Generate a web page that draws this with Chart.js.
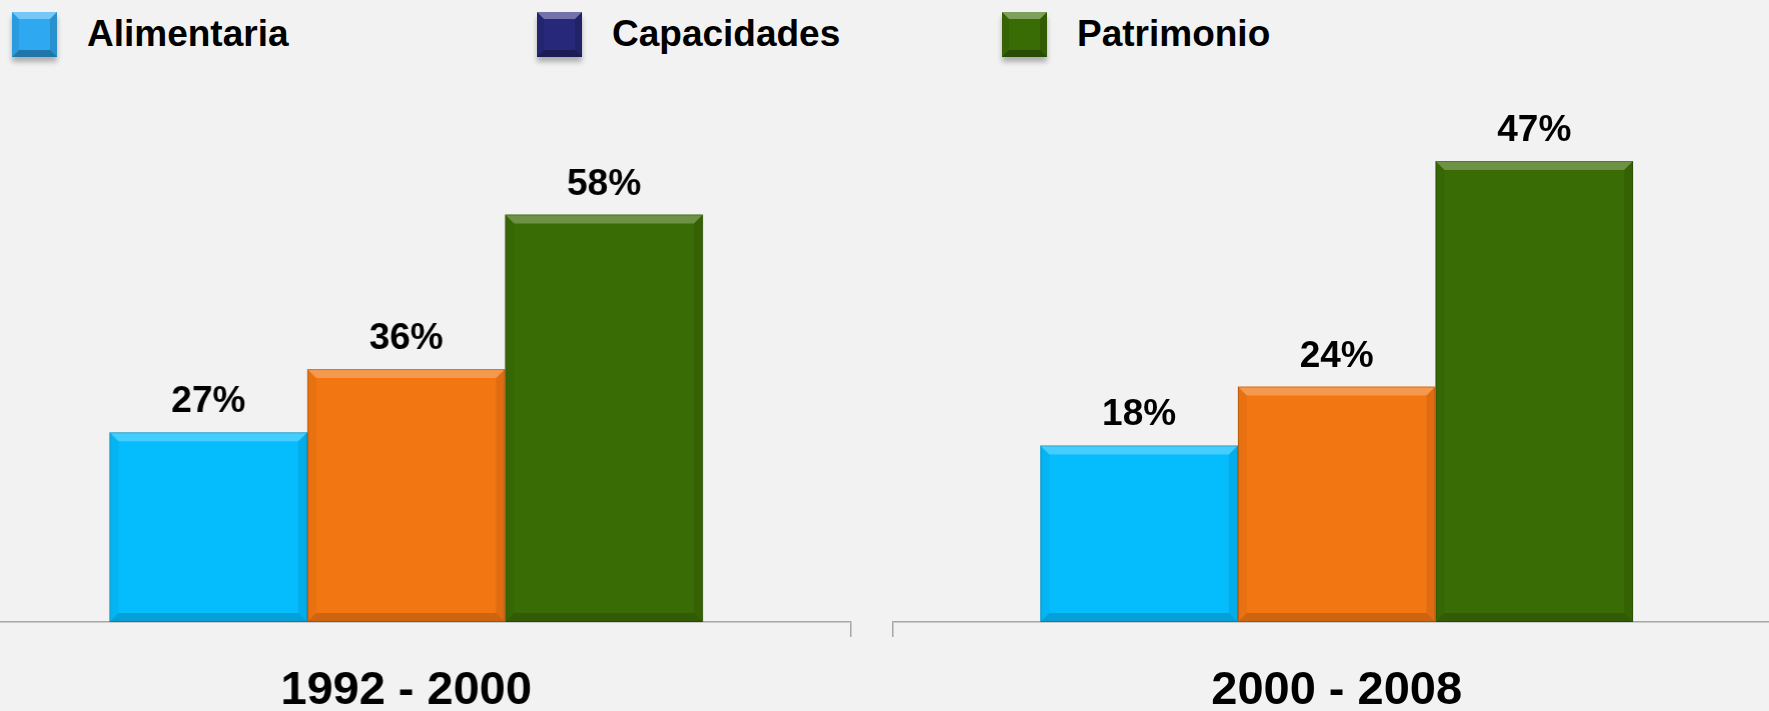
<!DOCTYPE html>
<html lang="es">
<head>
<meta charset="utf-8">
<title>Pobreza por periodo</title>
<script src="https://cdn.jsdelivr.net/npm/chart.js@4.4.1/dist/chart.umd.min.js"></script>
<style>
  html, body {
    margin: 0;
    padding: 0;
    background: #f2f2f2;
  }
  body {
    width: 1769px;
    height: 711px;
    position: relative;
    overflow: hidden;
    font-family: "Liberation Sans", Arial, sans-serif;
  }
  .chart-box {
    position: absolute;
    top: 0;
    width: 890.4px;
    height: 746px;
  }
  #box1 { left: -37.8px; }
  #box2 { left: 889.6px; }
  .legend-item {
    position: absolute;
    top: 12px;
    height: 45px;
  }
  .legend-item .swatch {
    position: absolute;
    left: 0;
    top: 0;
    width: 31px;
    height: 31px;
    border-style: solid;
    border-width: 7px;
    box-shadow: 0 5px 5px rgba(0, 0, 0, 0.28);
  }
  .legend-item .label {
    position: absolute;
    top: -1px;
    white-space: nowrap;
    font-weight: bold;
    font-size: 37px;
    line-height: 45px;
    color: #000;
  }
</style>
</head>
<body>
<div id="legend"></div>
<div class="chart-box" id="box1"><canvas id="chart1"></canvas></div>
<div class="chart-box" id="box2"><canvas id="chart2"></canvas></div>

<script>
const categories = ['Alimentaria', 'Capacidades', 'Patrimonio'];
const periods = ['1992 - 2000', '2000 - 2008'];
const values1992 = [27, 36, 58];
const values2000 = [18, 24, 47];
const barColors = ['#05bcfd', '#f27612', '#3a6c05'];
const legendColors = ['#2ea9f1', '#27287a', '#3a6c05'];

// legend boxes along the top, with a bevelled swatch
const legendLeft = [12, 537, 1002];
const legendTextGap = 75;
const legend = document.getElementById('legend');
categories.forEach((name, i) => {
  const item = document.createElement('div');
  item.className = 'legend-item';
  item.style.left = legendLeft[i] + 'px';
  const c = legendColors[i];
  item.innerHTML = `
    <div class="swatch" style="background:${c};
      border-top-color:${shade(c, 0.35)};
      border-bottom-color:${shade(c, -0.3)};
      border-left-color:${shade(c, -0.08)};
      border-right-color:${shade(c, -0.15)};"></div>
    <div class="label" style="left:${legendTextGap}px">${name}</div>
  `;
  legend.appendChild(item);
});

function shade(hex, amt) {
  const n = parseInt(hex.slice(1), 16);
  let r = n >> 16, g = (n >> 8) & 255, b = n & 255;
  const f = v => amt >= 0 ? Math.round(v + (255 - v) * amt) : Math.round(v * (1 + amt));
  return `rgb(${f(r)},${f(g)},${f(b)})`;
}

// bevel edges on every bar
const bevelPlugin = {
  id: 'bevel',
  afterDatasetsDraw(chart) {
    const ctx = chart.ctx;
    const s = 9;
    chart.data.datasets.forEach((ds, i) => {
      chart.getDatasetMeta(i).data.forEach(bar => {
        const { x, y, base, width } = bar.getProps(['x', 'y', 'base', 'width'], true);
        const l = x - width / 2, r = x + width / 2, t = y, b = base;
        const poly = (pts, fill) => {
          ctx.fillStyle = fill;
          ctx.beginPath();
          ctx.moveTo(pts[0][0], pts[0][1]);
          pts.slice(1).forEach(p => ctx.lineTo(p[0], p[1]));
          ctx.closePath();
          ctx.fill();
        };
        ctx.save();
        poly([[l, t], [r, t], [r - s, t + s], [l + s, t + s]], 'rgba(255,255,255,0.26)');
        poly([[l, b], [r, b], [r - s, b - s], [l + s, b - s]], 'rgba(0,0,0,0.15)');
        poly([[l, t], [l + s, t + s], [l + s, b - s], [l, b]], 'rgba(0,0,0,0.04)');
        poly([[r, t], [r - s, t + s], [r - s, b - s], [r, b]], 'rgba(0,0,0,0.08)');
        ctx.strokeStyle = 'rgba(0,0,0,0.2)';
        ctx.lineWidth = 1;
        ctx.strokeRect(l + 0.5, t + 0.5, width - 1, b - t - 1);
        ctx.restore();
      });
    });
  }
};

// percentage above each bar
const valueLabels = {
  id: 'valueLabels',
  afterDatasetsDraw(chart) {
    const ctx = chart.ctx;
    ctx.save();
    ctx.font = 'bold 37px "Liberation Sans", Arial, sans-serif';
    ctx.fillStyle = '#000';
    ctx.textAlign = 'center';
    ctx.textBaseline = 'alphabetic';
    chart.data.datasets.forEach((ds, i) => {
      chart.getDatasetMeta(i).data.forEach((bar, j) => {
        ctx.fillText(ds.data[j] + '%', bar.x, bar.y - 20);
      });
    });
    ctx.restore();
  }
};

function makeChart(id, period, values, yMax, pad) {
  return new Chart(document.getElementById(id), {
    type: 'bar',
    data: {
      labels: [period],
      datasets: categories.map((name, i) => ({
        label: name,
        data: [values[i]],
        backgroundColor: barColors[i],
        borderWidth: 0
      }))
    },
    options: {
      responsive: true,
      maintainAspectRatio: false,
      animation: false,
      layout: { padding: Object.assign({ top: 60, left: 0, right: 0, bottom: 0 }, pad) },
      datasets: {
        bar: { categoryPercentage: 0.668, barPercentage: 1 }
      },
      plugins: {
        legend: { display: false },
        tooltip: { enabled: false }
      },
      scales: {
        x: {
          grid: {
            display: true,
            offset: true,
            drawOnChartArea: false,
            tickLength: 15,
            color: '#a6a6a6',
            lineWidth: 1.5
          },
          border: { color: '#a6a6a6', width: 1.5 },
          ticks: {
            color: '#000',
            padding: 31,
            font: { family: '"Liberation Sans", Arial, sans-serif', size: 47, weight: 'bold', lineHeight: 1 }
          }
        },
        y: { display: false, min: 0, max: yMax }
      }
    },
    plugins: [bevelPlugin, valueLabels]
  });
}

makeChart('chart1', periods[0], values1992, 80, { right: 3 });
makeChart('chart2', periods[1], values2000, 57.3, { left: 3 });
</script>
</body>
</html>
